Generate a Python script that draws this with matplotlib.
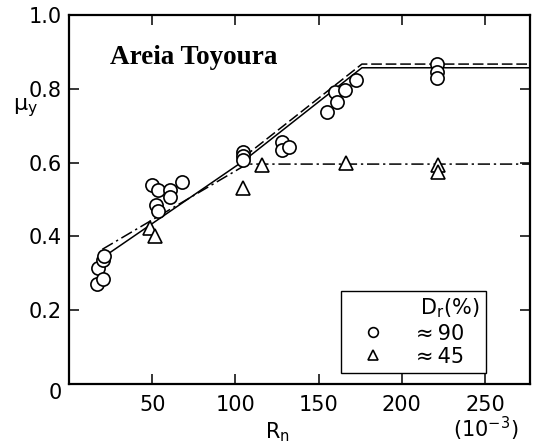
import matplotlib
matplotlib.use('Agg')
import matplotlib.pyplot as plt
from matplotlib.lines import Line2D

# measured points, Dr ~ 90 %
circ_rn = [17, 17.5, 20.4, 20.4, 21, 49.8, 53.4, 60.6, 60.6, 67.8, 52.5, 53.4,
           104.4, 104.4, 104.4, 128, 128, 132, 154.8, 159.7, 160.9, 165.7, 172.3,
           221, 221, 221]
circ_mu = [0.271, 0.314, 0.284, 0.336, 0.347, 0.539, 0.526, 0.526, 0.507, 0.547, 0.486, 0.468,
           0.628, 0.617, 0.607, 0.655, 0.634, 0.642, 0.737, 0.791, 0.764, 0.797, 0.824,
           0.867, 0.846, 0.83]

# measured points, Dr ~ 45 %
tri_rn = [48.5, 51.5, 104.4, 116, 166.6, 221.5, 221.5]
tri_mu = [0.423, 0.400, 0.530, 0.593, 0.599, 0.593, 0.575]

# bilinear fits
fit90_rn = [21, 105, 176, 277]
fit90_mu = [0.345, 0.605, 0.857, 0.857]
fit90b_rn = [105, 176, 277]
fit90b_mu = [0.615, 0.867, 0.867]
fit45_rn = [20, 107, 277]
fit45_mu = [0.365, 0.596, 0.596]

xticks = [50, 100, 150, 200, 250]
yticks = [0.2, 0.4, 0.6, 0.8, 1.0]
legend_labels = ['\u2009$D_r$(%)', '≈\u200990', '≈\u200945']

plt.rcParams['font.family'] = ['DejaVu Sans']
plt.rcParams['mathtext.default'] = 'regular'

fig = plt.figure(figsize=(5.36, 4.44), dpi=100)
ax = fig.add_axes([0.1287, 0.1351, 0.8601, 0.8311])

ax.plot(fit90_rn, fit90_mu, color='black', lw=1.1, ls='-')
ax.plot(fit90b_rn, fit90b_mu, color='black', lw=1.1, ls=(0, (7, 2.5)))
ax.plot(fit45_rn, fit45_mu, color='black', lw=1.1, ls=(0, (8, 2.5, 1.5, 2.5)))

ax.plot(circ_rn, circ_mu, ls='none', marker='o', ms=9.5, mfc='white', mec='black', mew=1.2)
ax.plot(tri_rn, tri_mu, ls='none', marker='^', ms=9.5, mfc='white', mec='black', mew=1.2)

ax.set_xlim(0, 277)
ax.set_ylim(0, 1.0)
ax.set_xticks(xticks)
ax.set_xticklabels([str(v) for v in xticks])
ax.set_yticks(yticks)
ax.set_yticklabels(['%.1f' % v for v in yticks])
ax.tick_params(direction='in', length=7, width=1.1, labelsize=15, colors='black',
               top=True, right=True)
ax.tick_params(axis='x', pad=8)
ax.tick_params(axis='y', pad=5)
for sp in ax.spines.values():
    sp.set_linewidth(1.6)

# shared origin label
ax.annotate('0', xy=(0, 0), xytext=(-5, 1), textcoords='offset points',
            ha='right', va='top', fontsize=15, annotation_clip=False)

ax.text(-0.095, 0.75, r'$μ_y$', transform=ax.transAxes, fontsize=16,
        ha='center', va='center')
ax.text(0.453, -0.13, r'$R_n$', transform=ax.transAxes, fontsize=15,
        ha='center', va='center')
ax.text(0.905, -0.122, r'$(10^{-3})$', transform=ax.transAxes, fontsize=15,
        ha='center', va='center')

ax.text(0.088, 0.885, 'Areia Toyoura', transform=ax.transAxes, fontsize=19.5,
        fontweight='bold', family='Liberation Serif', ha='left', va='center')

handles = [
    Line2D([], [], ls='none'),
    Line2D([], [], ls='none', marker='o', ms=7, mfc='white', mec='black', mew=1.2),
    Line2D([], [], ls='none', marker='^', ms=7, mfc='white', mec='black', mew=1.2),
]
leg = ax.legend(handles, legend_labels, loc='lower right',
                bbox_to_anchor=(0.9046, 0.03), fontsize=15,
                frameon=True, fancybox=False, edgecolor='black', framealpha=1,
                handlelength=2.4, handletextpad=0.9, labelspacing=0.15,
                borderpad=0.3, borderaxespad=0)
leg.get_frame().set_linewidth(1.0)

fig.savefig('out.png', dpi=100)
